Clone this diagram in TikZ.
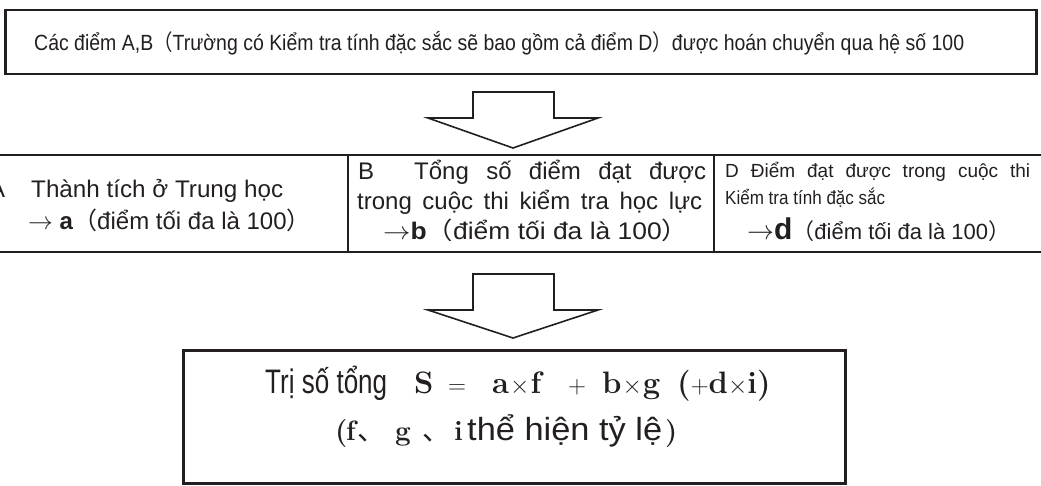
\documentclass[tikz,border=0pt]{standalone}
\usepackage{fontspec}
\usepackage{graphicx}
\newfontfamily\arial{Liberation Sans}
\newfontfamily\narrow[FakeStretch=0.82]{Liberation Sans}
\newfontfamily\cjk{Noto Sans CJK JP}
\definecolor{ink}{HTML}{231F20}
\newcommand{\lp}{{\cjk（}}
\newcommand{\rp}{{\cjk）}}
\begin{document}
\begin{tikzpicture}[x=1pt,y=-1pt,
  frame/.style={draw=ink, line width=2.5pt, inner sep=0pt},
  rowline/.style={draw=ink, line width=2pt},
  blockarrow/.style={draw=ink, line width=1.6pt, fill=white, line join=miter},
  txt/.style={inner sep=0pt, anchor=base west, text=ink, font=\arial},
  cell/.style={txt, font=\arial\fontsize{24}{28}\selectfont},
  celld/.style={txt, font=\arial\fontsize{19}{22}\selectfont},
  fserif/.style={txt, font=\rmfamily\bfseries\fontsize{31}{36}\selectfont},
  fserifs/.style={txt, font=\rmfamily\bfseries\fontsize{28}{32}\selectfont}]
\useasboundingbox (0,0) rectangle (1041,485);

% top box
\node[frame, minimum width=1031pt, minimum height=64pt] (topbox) at (521,42) {};
\node[txt] (toptext) at (34,50) {\resizebox{930pt}{\height}{\fontsize{22}{26}\selectfont Các điểm A,B\lp Trường có Kiểm tra tính đặc sắc sẽ bao gồm cả điểm D\rp được hoán chuyển qua hệ số 100}};

% arrow 1
\draw[blockarrow] (473,92) -- (473,118) -- (428,118) -- (513,148) -- (598,118) -- (554,118) -- (554,92) -- cycle;

% middle row
\coordinate (rl1) at (0,155);
\coordinate (rr1) at (1041,155);
\coordinate (rl2) at (0,252);
\coordinate (rr2) at (1041,252);
\draw[rowline] (rl1) -- (rr1);
\draw[rowline] (rl2) -- (rr2);
\coordinate (d1t) at (348,155);
\coordinate (d1b) at (348,252);
\coordinate (d2t) at (714,155);
\coordinate (d2b) at (714,252);
\draw[rowline] (d1t) -- (d1b);
\draw[rowline] (d2t) -- (d2b);

% cell A
\node[cell] (aA) at (-11,197) {A};
\node[cell] (a1l) at (31,197) {\resizebox{252pt}{\height}{Thành tích ở Trung học}};
\node[cell] (a2l) at (28,229) {$\rightarrow$ \textbf{a}\lp điểm tối đa là 100\rp};

% cell B
\node[cell] (bB) at (358,179) {B};
\node[cell] (b1l) at (414,179) {\makebox[292pt][s]{Tổng số điểm đạt được}};
\node[cell] (b2l) at (357,209) {\makebox[345pt][s]{trong cuộc thi kiểm tra học lực}};
\node[cell] (b3l) at (383,239) {\resizebox{305pt}{\height}{$\rightarrow$\textbf{b}\lp điểm tối đa là 100\rp}};

% cell D
\node[celld] (d1l) at (725,177) {\makebox[305pt][s]{D Điểm đạt được trong cuộc thi}};
\node[celld] (d2l) at (725,204) {\resizebox{160pt}{\height}{Kiểm tra tính đặc sắc}};
\node[txt, font=\arial\fontsize{22}{26}\selectfont] (d3l) at (747,239) {\scalebox{1.3}{$\rightarrow$}\textbf{\fontsize{30}{30}\selectfont d}\lp điểm tối đa là 100\rp};

% arrow 2
\draw[blockarrow] (473,274) -- (473,310) -- (428,310) -- (513,338) -- (598,310) -- (554,310) -- (554,274) -- cycle;

% bottom box
\node[frame, line width=3pt, minimum width=662pt, minimum height=133pt] (botbox) at (514,416.5) {};
% line 1
\node[txt] (f1) at (265,393) {\resizebox{122pt}{\height}{\fontsize{34}{38}\selectfont Trị số tổng}};
\node[fserif] (fS) at (414,393) {S};
\node[fserif] (feq) at (448,393) {$=$};
\node[fserif] (faf) at (492,393) {a\kern1pt$\times$\kern1pt f};
\node[fserif] (fplus) at (568,393) {$+$};
\node[fserif] (fbg) at (602,393) {b\kern1pt$\times$\kern1pt g};
\node[fserif] (fdi) at (677,393) {($+$d$\times$i)};
% line 2
\node[fserifs] (gl) at (335,440) {(};
\node[fserifs] (gf) at (346,440) {f};
\node[txt, font=\cjk\fontsize{28}{32}\selectfont] (gc1) at (357,440) {、};
\node[fserifs] (gg) at (395,440) {g};
\node[txt, font=\cjk\fontsize{28}{32}\selectfont] (gc2) at (422,440) {、};
\node[fserifs] (gi) at (454,440) {i};
\node[txt, font=\narrow\fontsize{32}{36}\selectfont] (gt) at (467,440) {\resizebox{195pt}{\height}{thể hiện tỷ lệ}};
\node[fserifs] (gr) at (665,440) {)};
\end{tikzpicture}
\end{document}
